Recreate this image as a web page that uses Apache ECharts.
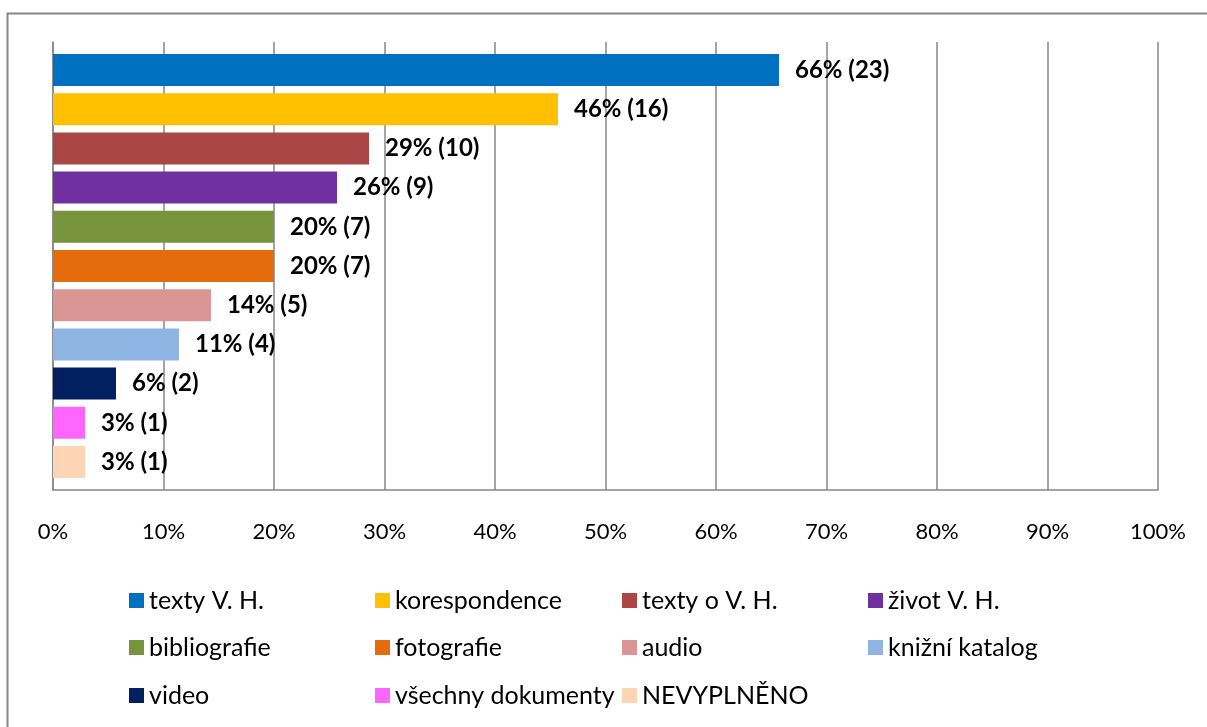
<!DOCTYPE html>
<html><head><meta charset="utf-8">
<script src="https://cdn.jsdelivr.net/npm/echarts@6/dist/echarts.min.js"></script>
<style>html,body{margin:0;padding:0;background:#fff}#c{width:1207px;height:727px}</style>
</head><body><div id="c"></div>
<script>
const names = ['texty V. H.','korespondence','texty o V. H.','život V. H.','bibliografie','fotografie','audio','knižní katalog','video','všechny dokumenty','NEVYPLNĚNO'];
const counts = [23,16,10,9,7,7,5,4,2,1,1];
const percents = [65.7,45.7,28.6,25.7,20.0,20.0,14.3,11.4,5.7,2.9,2.9];
const pctLabels = ['66%','46%','29%','26%','20%','20%','14%','11%','6%','3%','3%'];
const colors = ['#0070C0','#FFC000','#AA4643','#7030A0','#77933C','#E46C0A','#D99694','#8EB4E3','#002060','#FF66FF','#FCD5B5'];
const xTicks = [0,10,20,30,40,50,60,70,80,90,100];
const FONT = 'Lato';

const series = names.map((n,i)=>({
  name:n, type:'bar', data:[percents[i]], barWidth:32, barGap:'22.5%',
  itemStyle:{color:colors[i]},
  label:{show:true, position:'right', distance:16, formatter:()=>pctLabels[i]+' ('+counts[i]+')',
    color:'#000', fontWeight:'bold', fontSize:24, fontFamily:FONT},
  animation:false
}));
const colLefts = [129, 375, 622, 868];
const rowTops = [588, 635, 683];
const legends = names.map((n,i)=>({
  data:[n], left:colLefts[i % 4], top:rowTops[Math.floor(i / 4)], orient:'horizontal',
  itemWidth:15, itemHeight:15, icon:'rect', padding:0,
  textStyle:{fontSize:25, fontFamily:FONT, color:'#000'},
  selectedMode:false
}));
const chart = echarts.init(document.getElementById('c'));
chart.setOption({
  animation:false,
  graphic:[{type:'rect', shape:{x:7.5,y:13.5,width:1300,height:800}, style:{fill:null, stroke:'#878787', lineWidth:2}}],
  grid:{left:53, right:49, top:42, bottom:237},
  legend: legends,
  xAxis:{type:'value', min:0, max:100, interval:10,
    axisLabel:{formatter:v=>v+'%', fontSize:22, fontFamily:FONT, color:'#000', margin:31},
    axisLine:{show:true, lineStyle:{color:'#878787', width:1.5}},
    axisTick:{show:false},
    splitLine:{show:true, lineStyle:{color:'#878787', width:1.5}}},
  yAxis:{type:'category', data:[''], inverse:true,
    axisLine:{show:true, lineStyle:{color:'#878787', width:1.5}},
    axisTick:{show:false}, axisLabel:{show:false}},
  series: series
});
</script></body></html>
